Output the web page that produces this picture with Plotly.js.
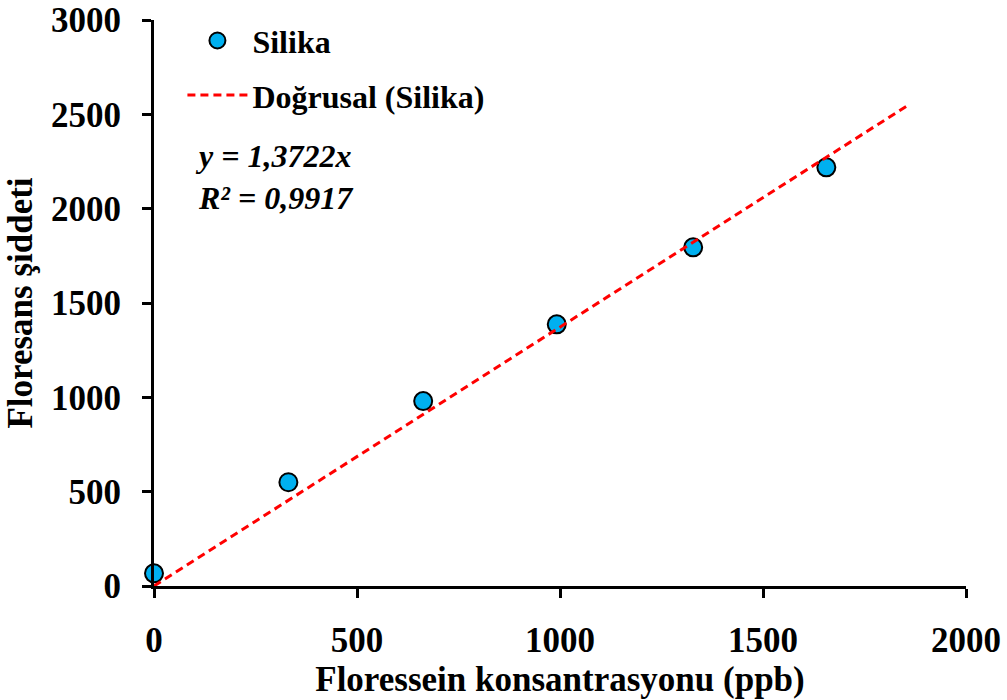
<!DOCTYPE html>
<html>
<head>
<meta charset="utf-8">
<script src="https://cdn.plot.ly/plotly-3.0.1.min.js"></script>
<style>html,body{margin:0;padding:0;background:#fff;}#chart{width:1007px;height:700px;}</style>
</head>
<body>
<div id="chart"></div>
<script>
// Data
const concentration = [0, 331, 663, 992, 1328, 1656];
const intensity = [67, 550, 980, 1387, 1795, 2219];
const seriesName = "Silika";
const trendName = "Doğrusal (Silika)";
const trendSlope = 1.3722;
const trendX = [0, 1860];
const equationText = "y = 1,3722x<br>R² = 0,9917";
const xTicks = [0, 500, 1000, 1500, 2000];
const yTicks = [0, 500, 1000, 1500, 2000, 2500, 3000];

const serif = "'Liberation Serif', 'Times New Roman', serif";

const traces = [
  {
    x: concentration, y: intensity, type: "scatter", mode: "markers", name: seriesName,
    legendgroup: "a",
    marker: {size: 18, color: "#00B0F0", line: {color: "#000", width: 2}},
    cliponaxis: false
  },
  {
    x: trendX, y: trendX.map(v => v * trendSlope), type: "scatter", mode: "lines", name: trendName,
    legendgroup: "b",
    line: {color: "#FF0000", width: 3, dash: "8px,5px"}
  }
];

const axisCommon = {
  showgrid: false, zeroline: false, showline: true, linecolor: "#000", linewidth: 3,
  ticks: "outside", ticklen: 9, tickwidth: 3, tickcolor: "#000",
  tickfont: {family: serif, size: 35, color: "#000", weight: "bold"}
};

const layout = {
  width: 1007, height: 700,
  margin: {l: 154, r: 41, t: 20, b: 114},
  paper_bgcolor: "#fff", plot_bgcolor: "#fff",
  showlegend: true,
  legend: {
    x: 0.035, y: 1.012, xanchor: "left", yanchor: "top",
    font: {family: serif, size: 32, color: "#000", weight: "bold"},
    bgcolor: "rgba(0,0,0,0)", traceorder: "grouped", tracegroupgap: 10, itemwidth: 60
  },
  xaxis: Object.assign({}, axisCommon, {
    range: [0, 2000], tickvals: xTicks, ticklabelstandoff: 12, automargin: "height",
    title: {text: "Floressein konsantrasyonu (ppb)", font: {family: serif, size: 35, color: "#000", weight: "bold"}, standoff: 0}
  }),
  yaxis: Object.assign({}, axisCommon, {
    range: [0, 3000], tickvals: yTicks, ticklabelstandoff: 14,
    title: {text: "Floresans şiddeti", font: {family: serif, size: 35, color: "#000", weight: "bold"}, standoff: 8}
  }),
  annotations: [{
    xref: "paper", yref: "paper", x: 0.048, y: 0.795, xanchor: "left", yanchor: "top",
    text: "<b><i>" + equationText + "</i></b>", showarrow: false, align: "left",
    font: {family: serif, size: 32, color: "#000"}
  }]
};

Plotly.newPlot("chart", traces, layout, {displayModeBar: false, staticPlot: true});
</script>
</body>
</html>
